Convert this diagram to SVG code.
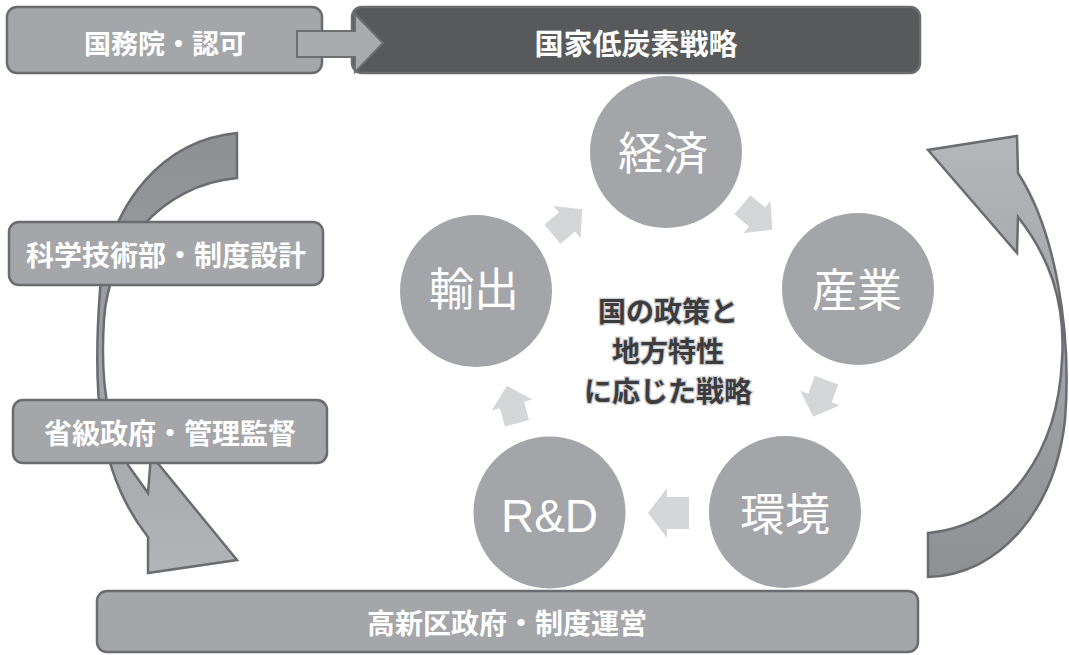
<svg xmlns="http://www.w3.org/2000/svg" width="1069" height="655" viewBox="0 0 1069 655">
<defs>
<style>
.box{fill:#a5a6a9;stroke:#6b6c6f;stroke-width:2.5}
.dark{fill:#58595b;stroke:#6b6c6f;stroke-width:2.5}
.lbl{font-family:"Noto Sans CJK JP","Noto Sans CJK SC",sans-serif;font-weight:700;font-size:28px;fill:#fff;text-anchor:middle;dominant-baseline:central}
.circ{fill:#a4a5a8}
.clbl{font-family:"Noto Sans CJK JP","Noto Sans CJK SC",sans-serif;font-weight:400;font-size:45px;fill:#fff;text-anchor:middle;dominant-baseline:central}
.rd{font-family:"Liberation Sans",Arial,sans-serif;font-size:46px;fill:#fff;text-anchor:middle}
.sarr{fill:#d5d6d8}
.big{stroke:#6b6c6f;stroke-width:2.5;stroke-linejoin:miter}
.ctr{font-family:"Noto Sans CJK JP","Noto Sans CJK SC",sans-serif;font-weight:700;font-size:28px;fill:#3c3c3e;text-anchor:middle;dominant-baseline:central;stroke:#cfcfd1;stroke-width:2.5;paint-order:stroke}
</style>
<linearGradient id="gL" x1="0" y1="0" x2="0" y2="1">
<stop offset="0" stop-color="#8e8f92"/><stop offset="1" stop-color="#b3b4b7"/>
</linearGradient>
<linearGradient id="gR" x1="0" y1="0" x2="0" y2="1">
<stop offset="0" stop-color="#b5b6b9"/><stop offset="1" stop-color="#8f9093"/>
</linearGradient>
<path id="sa" d="M-19,-12.5 H0 V-21 L20,0 L0,21 V12.5 H-19 Z"/>
</defs>
<rect width="1069" height="655" fill="#ffffff"/>

<g id="connectors">
<path id="arrow-left" class="big" fill="url(#gL)" d="M237,133 C165,140 110,200 100,290 C93,385 95,470 148,537 L148,573 L237,560 L151,455 L148,493 L128,465 C108,430 100,380 104,320 C108,250 160,185 237,178 Z"/>
<path id="arrow-right" class="big" fill="url(#gR)" d="M928,577 C1000,575 1055,510 1065,420 C1072,330 1055,230 1018,173 L1017,136 L928,150 L1017,253 L1018,217 C1048,255 1066,300 1062,360 C1058,450 1010,525 928,533 Z"/>
</g>

<g id="node-kokumuin">
<rect class="box" x="7" y="7" width="315" height="66" rx="10"/>
<text class="lbl" x="165" y="42" style="font-size:27px">国務院・認可</text>
</g>
<g id="node-national">
<rect class="dark" x="352" y="7" width="568" height="66" rx="10"/>
<text class="lbl" x="636" y="42" style="font-size:29px">国家低炭素戦略</text>
</g>
<g id="top-arrow">
<path fill="#a9aaad" stroke="#6d6e71" stroke-width="2" d="M297,31 H355 V14 L383,43 L355,72 V57 H297 Z"/>
</g>

<g id="node-kagaku">
<rect class="box" x="9" y="222" width="314" height="63" rx="10"/>
<text class="lbl" x="166" y="254">科学技術部・制度設計</text>
</g>
<g id="node-shokyu">
<rect class="box" x="13" y="400" width="314" height="63" rx="10"/>
<text class="lbl" x="170" y="432">省級政府・管理監督</text>
</g>
<g id="node-koshinku">
<rect class="box" x="97" y="591" width="821" height="61" rx="10"/>
<text class="lbl" x="507" y="622">高新区政府・制度運営</text>
</g>

<g id="node-keizai">
<circle class="circ" cx="666" cy="152" r="76"/>
<text class="clbl" x="663" y="150">経済</text>
</g>
<g id="node-sangyo">
<circle class="circ" cx="858" cy="289" r="76"/>
<text class="clbl" x="857" y="287">産業</text>
</g>
<g id="node-kankyo">
<circle class="circ" cx="785" cy="512" r="76"/>
<text class="clbl" x="785" y="511">環境</text>
</g>
<g id="node-rd">
<circle class="circ" cx="549.5" cy="512.5" r="76"/>
<text class="rd" x="549.5" y="532">R&amp;D</text>
</g>
<g id="node-yushutsu">
<circle class="circ" cx="476" cy="291" r="76"/>
<text class="clbl" x="474" y="286">輸出</text>
</g>

<g id="cycle-arrows">
<use href="#sa" class="sarr" transform="translate(567,222) rotate(-40)"/>
<use href="#sa" class="sarr" transform="translate(757,217) rotate(40)"/>
<use href="#sa" class="sarr" transform="translate(820,398) rotate(110)"/>
<path class="sarr" d="M689,497 H667 V488 L648,513 L667,538 V529 H689 Z"/>
<use href="#sa" class="sarr" transform="translate(512,405) rotate(-105)"/>
</g>

<g id="node-center">
<text class="ctr" x="668" y="310">国の政策と</text>
<text class="ctr" x="668" y="350">地方特性</text>
<text class="ctr" x="668" y="390">に応じた戦略</text>
</g>
</svg>
